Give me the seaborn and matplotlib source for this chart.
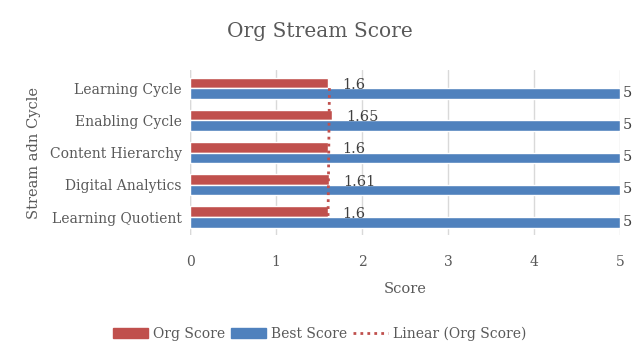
import matplotlib
matplotlib.use("Agg")
import matplotlib.pyplot as plt
from matplotlib.lines import Line2D
from matplotlib.patches import Patch
import numpy as np
import pandas as pd
import seaborn as sns

# Données
categories = ["Learning Cycle", "Enabling Cycle", "Content Hierarchy",
              "Digital Analytics", "Learning Quotient"]
org_score = [1.6, 1.65, 1.6, 1.61, 1.6]
best_score = [5, 5, 5, 5, 5]
x_ticks = [0, 1, 2, 3, 4, 5]

ROUGE = "#C0504D"
BLEU = "#4F81BD"
TEXTE = "#595959"

sns.set_theme(style="white")
plt.rcParams["font.family"] = ["DejaVu Serif"]

df = pd.DataFrame({
    "categorie": categories * 2,
    "serie": ["Org Score"] * len(categories) + ["Best Score"] * len(categories),
    "score": org_score + best_score,
})

fig, ax = plt.subplots(figsize=(6.4, 3.59), dpi=100)
sns.barplot(data=df, y="categorie", x="score", hue="serie", orient="h",
            palette={"Org Score": ROUGE, "Best Score": BLEU},
            hue_order=["Org Score", "Best Score"], width=0.66,
            saturation=1, ax=ax, legend=False)

# Tendance linéaire (ordre Excel : de bas en haut)
pos = np.arange(len(categories))
xs = np.arange(1, len(categories) + 1)
coef = np.polyfit(xs, org_score[::-1], 1)
fit = np.polyval(coef, xs)[::-1]
ax.plot(fit, pos, color=ROUGE, linestyle=(0, (1, 1.5)), linewidth=2)

# Étiquettes de valeurs
for i, (o, b) in enumerate(zip(org_score, best_score)):
    ax.text(o + 0.17, i - 0.1, f"{o:g}", color="#404040", fontsize=10.5,
            va="center", ha="left")
    ax.text(b + 0.03, i + 0.14, f"{b:g}", color="#404040", fontsize=10.5,
            va="center", ha="left")

ax.set_xlim(0, 5)
ax.set_xticks(x_ticks)
ax.xaxis.grid(True, color="#D9D9D9", linewidth=1)
ax.set_axisbelow(True)
for s in ax.spines.values():
    s.set_visible(False)
ax.axvline(0, color="#D9D9D9", linewidth=1, zorder=0)
ax.tick_params(axis="y", length=0, labelsize=10, colors=TEXTE, pad=6)
ax.tick_params(axis="x", length=0, labelsize=10, colors=TEXTE, pad=14)

fig.suptitle("Org Stream Score", fontsize=14.5, color=TEXTE, x=0.5, y=0.94)
ax.set_xlabel("Score", fontsize=10.5, color=TEXTE, labelpad=10)
ax.set_ylabel("Stream adn Cycle", fontsize=10.5, color=TEXTE, labelpad=6)

handles = [Patch(color=ROUGE), Patch(color=BLEU),
           Line2D([], [], color=ROUGE, linestyle=(0, (1, 1.5)), linewidth=2)]
fig.legend(handles, ["Org Score", "Best Score", "Linear (Org Score)"],
           loc="lower center", ncol=3, frameon=False, fontsize=10,
           bbox_to_anchor=(0.5, 0.015), handlelength=2.5, columnspacing=0.4,
           handletextpad=0.4, labelcolor=TEXTE)

fig.subplots_adjust(left=0.297, right=0.969, top=0.805, bottom=0.345)
fig.savefig("out.png", dpi=100)
